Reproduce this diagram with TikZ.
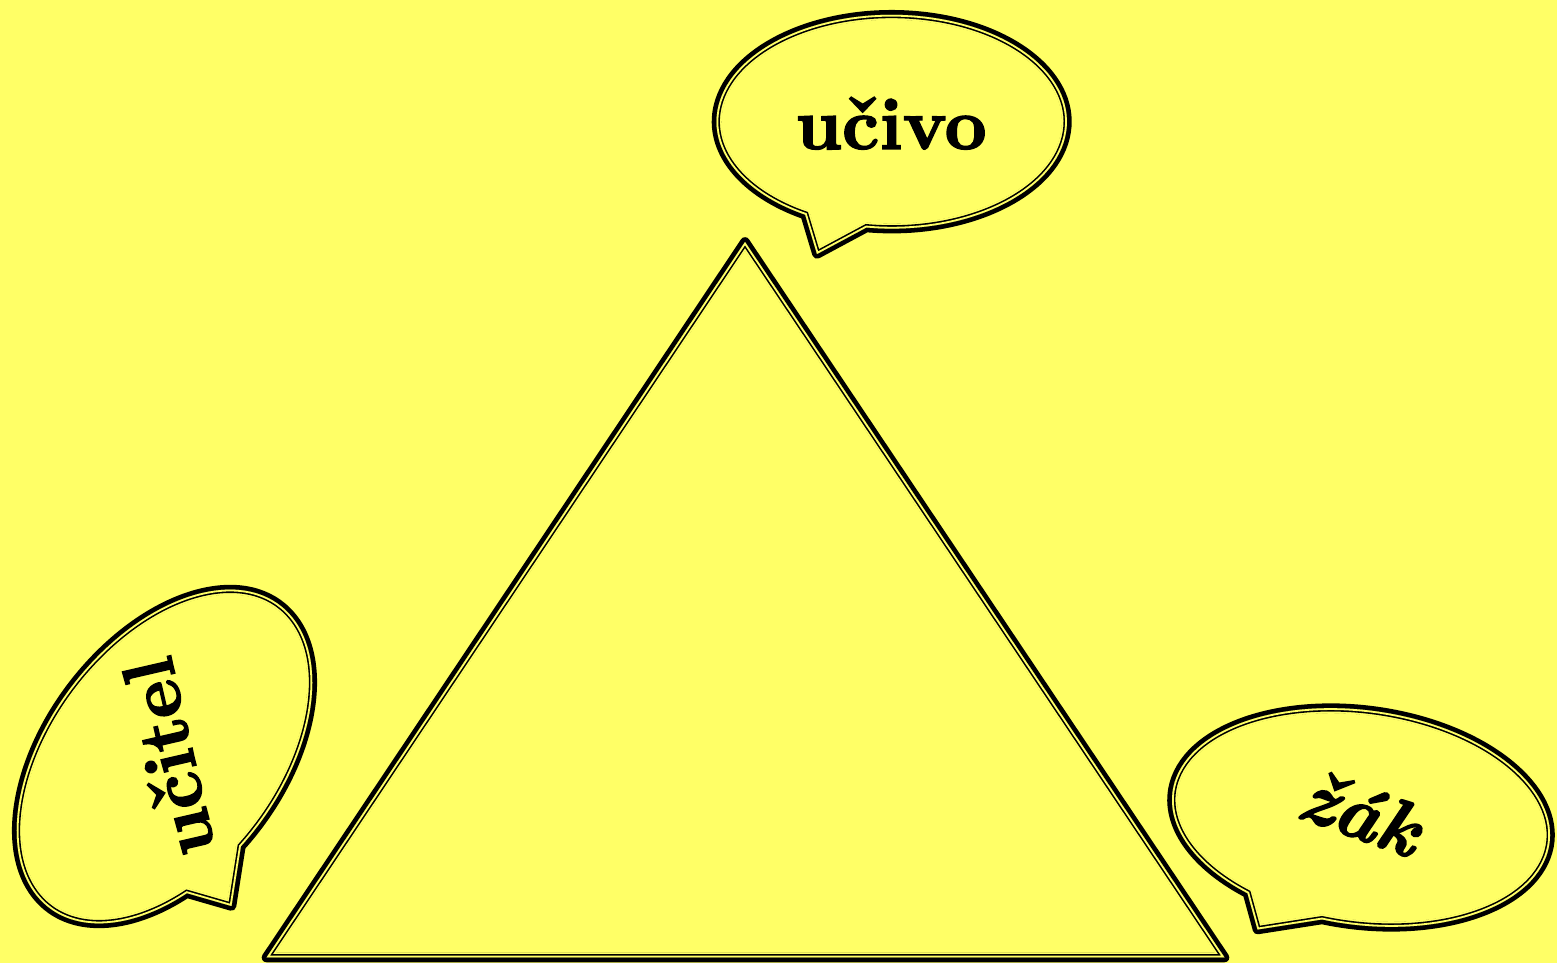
\documentclass[tikz,border=0pt]{standalone}
\usepackage{fontspec}
\newfontfamily\labelbf{lmroman10-bold.otf}[FakeBold=2]
\newfontfamily\labelbfit{lmroman10-bolditalic.otf}[FakeBold=2]
\definecolor{bg}{RGB}{255,255,102}
\tikzset{
  outerline/.style={draw=black, line width=9.6pt, line join=round},
  eraseline/.style={draw=bg, line width=10.4pt},
  innerblack/.style={draw=black, line width=6.8pt},
  innergap/.style={draw=bg, line width=3.6pt},
  bubbletext/.style={font=\fontsize{73}{80}\labelbf, inner sep=0pt, anchor=base},
  bubbletextit/.style={bubbletext, font=\fontsize{76}{84}\labelbfit},
}
\newcommand\doubleoutline[1]{%
  \draw[outerline] #1;
  \begin{scope}
    \clip #1;
    \draw[eraseline] #1;
    \draw[innerblack] #1;
    \draw[innergap] #1;
  \end{scope}}
\begin{document}
\begin{tikzpicture}[x=1pt,y=1pt]
\fill[bg] (0,0) rectangle (1557,963);
\useasboundingbox (0,0) rectangle (1557,963);
% triangle
\coordinate (A) at (266.5,5.5);
\coordinate (B) at (745,721);
\coordinate (C) at (1224.5,5.5);
\doubleoutline{(A) -- (B) -- (C) -- cycle}
% pointer tips
\coordinate (tipU) at (817,709);
\coordinate (tipT) at (231.5,57);
\coordinate (tipZ) at (1257.5,33.5);
% bubble: ucivo
\begin{scope}[shift={(891.7,841.3)}]
\doubleoutline{(261.7:175.2pt and 106.9pt) arc[start angle=261.7, end angle=600.4, x radius=175.2pt, y radius=106.9pt] -- (tipU) -- cycle}
\end{scope}
% bubble: ucitel
\begin{scope}[shift={(164.5,206.5)}, rotate=52.7]
\doubleoutline{(262.4:190.2pt and 116.2pt) arc[start angle=262.4, end angle=600, x radius=190.2pt, y radius=116.2pt] -- (tipT) -- cycle}
\end{scope}
% bubble: zak
\begin{scope}[shift={(1361,145.5)}, rotate=-7.8]
\doubleoutline{(262.5:190.2pt and 107.2pt) arc[start angle=262.5, end angle=597.5, x radius=190.2pt, y radius=107.2pt] -- (tipZ) -- cycle}
\end{scope}
% texts
\node[bubbletext] (ucivo) at (891,814) {učivo};
\node[bubbletext, rotate=103] (ucitel) at (193,211) {učitel};
\node[bubbletextit, rotate=-20] (zak) at (1352,126) {žák};
\end{tikzpicture}
\end{document}
